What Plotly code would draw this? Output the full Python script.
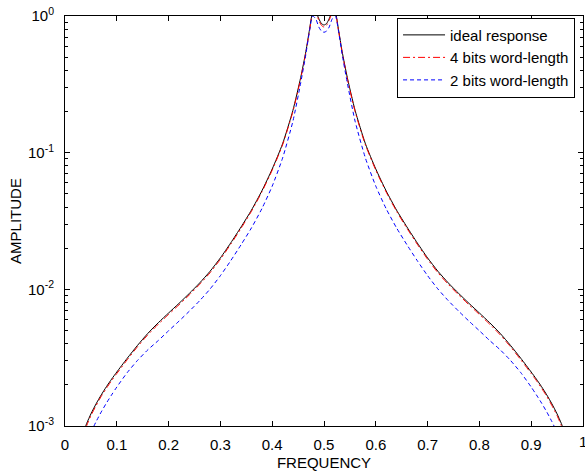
import plotly.graph_objects as go

freq = [0.03, 0.042, 0.05, 0.06, 0.07, 0.08, 0.09, 0.10, 0.12, 0.14, 0.16, 0.18, 0.20,
        0.22, 0.24, 0.26, 0.28, 0.30, 0.32, 0.34, 0.36, 0.38, 0.40, 0.42, 0.44, 0.455,
        0.465, 0.472, 0.478, 0.484, 0.49, 0.495, 0.50,
        0.505, 0.51, 0.516, 0.522, 0.528, 0.535, 0.545, 0.56, 0.58, 0.60, 0.62, 0.64,
        0.66, 0.68, 0.70, 0.72, 0.74, 0.76, 0.78, 0.80, 0.82, 0.84, 0.86, 0.88, 0.90,
        0.91, 0.92, 0.93, 0.94, 0.95, 0.958, 0.97]

ideal = [0.000794, 0.001047, 0.001225, 0.001452, 0.00169, 0.00194, 0.002203, 0.002483,
         0.003126, 0.00389, 0.004764, 0.005689, 0.006714, 0.007889, 0.009333, 0.01114,
         0.01355, 0.01698, 0.02188, 0.02864, 0.03802, 0.0525, 0.0759, 0.116, 0.204,
         0.355, 0.550, 0.794, 1.047, 1.072, 0.955, 0.881, 0.859,
         0.881, 0.955, 1.072, 1.047, 0.794, 0.550, 0.355, 0.204, 0.116, 0.0759, 0.0525,
         0.03802, 0.02864, 0.02188, 0.01698, 0.01355, 0.01114, 0.009333, 0.007889,
         0.006714, 0.005689, 0.004764, 0.00389, 0.003126, 0.002483, 0.002203, 0.00194,
         0.00169, 0.001452, 0.001225, 0.001047, 0.000794]

bits4 = [0.00077, 0.00101, 0.00119, 0.00141, 0.00165, 0.00189, 0.00215, 0.00242,
         0.00305, 0.0038, 0.00465, 0.00555, 0.00655, 0.0077, 0.0091, 0.01087,
         0.01322, 0.0166, 0.0214, 0.028, 0.0373, 0.0515, 0.0745, 0.114, 0.200,
         0.348, 0.540, 0.780, 1.03, 1.05, 0.93, 0.855, 0.830,
         0.855, 0.93, 1.05, 1.03, 0.780, 0.540, 0.348, 0.200, 0.114, 0.0745, 0.0515,
         0.0373, 0.028, 0.0214, 0.0166, 0.01322, 0.01087, 0.0091, 0.0077,
         0.00655, 0.00555, 0.00465, 0.0038, 0.00305, 0.00242, 0.00215, 0.00189,
         0.00165, 0.00141, 0.00119, 0.00101, 0.00077]

bits2 = [0.000575, 0.000759, 0.000897, 0.001076, 0.001268, 0.001472, 0.00169, 0.001928,
         0.002455, 0.00302, 0.003614, 0.004217, 0.004977, 0.005848, 0.006918, 0.00826,
         0.01005, 0.01259, 0.01622, 0.02123, 0.02818, 0.0389, 0.0569, 0.0912, 0.170,
         0.324, 0.525, 0.776, 1.0, 0.955, 0.83, 0.776, 0.76,
         0.776, 0.83, 0.955, 1.0, 0.776, 0.525, 0.324, 0.170, 0.0912, 0.0569, 0.0389,
         0.02818, 0.02123, 0.01622, 0.01259, 0.01005, 0.00826, 0.006918, 0.005848,
         0.004977, 0.004217, 0.003614, 0.00302, 0.002455, 0.001928, 0.00169, 0.001472,
         0.001268, 0.001076, 0.000897, 0.000759, 0.000575]

x_ticks = [0, 0.1, 0.2, 0.3, 0.4, 0.5, 0.6, 0.7, 0.8, 0.9, 1]
x_labels = ["0", "0.1", "0.2", "0.3", "0.4", "0.5", "0.6", "0.7", "0.8", "0.9", "1"]
y_ticks = [0.001, 0.01, 0.1, 1]
y_labels = ["10<sup>-3</sup>", "10<sup>-2</sup>", "10<sup>-1</sup>", "10<sup>0</sup>"]
y_minor = [m * d for d in (0.001, 0.01, 0.1) for m in range(2, 10)]

fig = go.Figure()
fig.add_trace(go.Scatter(x=freq, y=ideal, mode="lines", name="ideal response",
                         line=dict(color="black", width=1, shape="spline", smoothing=0.6)))
fig.add_trace(go.Scatter(x=freq, y=bits4, mode="lines", name="4 bits word-length",
                         line=dict(color="red", width=1, dash="7px,3px,2px,3px",
                                   shape="spline", smoothing=0.6)))
fig.add_trace(go.Scatter(x=freq, y=bits2, mode="lines", name="2 bits word-length",
                         line=dict(color="blue", width=1, dash="4px,3px",
                                   shape="spline", smoothing=0.6)))

font = "Liberation Sans, Arial, sans-serif"
fig.update_layout(
    width=585, height=474,
    margin=dict(l=65, r=2, t=16, b=48),
    paper_bgcolor="white", plot_bgcolor="white",
    font=dict(family=font, size=15, color="black"),
    showlegend=True,
    legend=dict(x=0.641, y=0.996, xanchor="left", yanchor="top",
                bordercolor="black", borderwidth=1, bgcolor="white",
                font=dict(size=15), itemwidth=42, tracegroupgap=0),
    xaxis=dict(range=[0, 1], tickvals=x_ticks[:-1], ticktext=x_labels[:-1],
               ticks="inside", ticklen=5, tickcolor="black",
               tickfont=dict(size=15), ticklabelstandoff=5,
               showline=True, linecolor="black", linewidth=1, mirror="allticks",
               showgrid=False, zeroline=False,
               title=dict(text="FREQUENCY", standoff=5, font=dict(size=15))),
    yaxis=dict(type="log", range=[-3, 0], tickvals=y_ticks, ticktext=y_labels,
               ticks="inside", ticklen=5, tickcolor="black",
               tickfont=dict(size=15), ticklabelstandoff=7,
               minor=dict(ticks="inside", ticklen=3, tickcolor="black", tickvals=y_minor),
               showline=True, linecolor="black", linewidth=1, mirror="allticks",
               showgrid=False, zeroline=False,
               title=dict(text="AMPLITUDE", standoff=2, font=dict(size=15))),
)
# last x tick label (partly outside the figure, as in the original)
fig.add_annotation(x=x_ticks[-1], xref="x", y=0, yref="paper", yanchor="top",
                   yshift=-5, text=x_labels[-1], showarrow=False,
                   font=dict(size=15, color="black"))

fig.write_html("out.html")
